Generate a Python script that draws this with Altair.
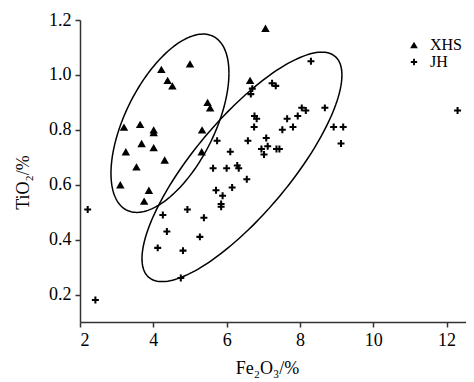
import numpy as np
import pandas as pd
import altair as alt

# ---- data ----
xhs_fe = [4.22, 5.00, 4.39, 4.52, 5.48, 5.55, 3.20, 3.64, 4.01, 4.01, 5.33,
          3.68, 3.25, 4.01, 5.32, 4.31, 3.54, 3.10, 3.88, 3.75, 7.06, 6.64]
xhs_ti = [1.02, 1.04, 0.98, 0.96, 0.90, 0.88, 0.81, 0.82, 0.80, 0.79, 0.80,
          0.75, 0.72, 0.735, 0.72, 0.69, 0.665, 0.60, 0.58, 0.54, 1.17, 0.98]

jh_fe = [8.30, 6.70, 6.66, 7.24, 7.34, 8.05, 8.16, 8.68, 6.76, 6.82, 6.75, 7.65,
         7.94, 7.81, 7.52, 8.92, 9.18, 9.12, 12.30, 6.58, 7.08, 6.95, 7.12, 7.02,
         7.36, 7.44, 6.10, 6.00, 6.29, 6.33, 6.55, 6.15, 5.89, 5.74, 5.63, 5.71,
         5.85, 5.85, 4.93, 5.38, 4.26, 4.37, 5.27, 4.12, 4.81, 4.75, 2.42, 2.21]
jh_ti = [1.05, 0.95, 0.93, 0.97, 0.96, 0.88, 0.87, 0.88, 0.85, 0.84, 0.81, 0.84,
         0.85, 0.81, 0.80, 0.81, 0.81, 0.75, 0.87, 0.76, 0.77, 0.73, 0.74, 0.71,
         0.73, 0.73, 0.72, 0.66, 0.67, 0.66, 0.62, 0.59, 0.56, 0.76, 0.66, 0.58,
         0.53, 0.52, 0.51, 0.48, 0.49, 0.43, 0.41, 0.37, 0.36, 0.26, 0.18, 0.51]

groups = ["XHS", "JH"]

# ellipse outlines: centre and two conjugate semi-axis vectors (data units)
ell_cx = [4.454, 6.418]
ell_cy = [0.824, 0.665]
ell_ax = [1.609, 2.727]
ell_ay = [0.1825, 0.334]
ell_bx = [0.0, 0.0]
ell_by = [-0.2686, -0.2511]

x_ticks = [2, 4, 6, 8, 10, 12]
y_ticks = [0.2, 0.4, 0.6, 0.8, 1.0, 1.2]

# ---- tables ----
pts = pd.DataFrame({
    "Fe": xhs_fe + jh_fe,
    "Ti": xhs_ti + jh_ti,
    "group": ["XHS"] * len(xhs_fe) + ["JH"] * len(jh_fe),
})

t = np.linspace(0, 2 * np.pi, 181)
rows = []
for k, name in enumerate(groups):
    for i, tt in enumerate(t):
        rows.append({
            "ell": name, "i": i,
            "Fe": ell_cx[k] + ell_ax[k] * np.cos(tt) + ell_bx[k] * np.sin(tt),
            "Ti": ell_cy[k] + ell_ay[k] * np.cos(tt) + ell_by[k] * np.sin(tt),
        })
ell = pd.DataFrame(rows)

FONT = "Liberation Serif"
cross_path = ("M-0.82,-0.24H-0.24V-0.82H0.24V-0.24H0.82V0.24H0.24V0.82"
              "H-0.24V0.24H-0.82Z")

xscale = alt.Scale(domain=[2, 12.53], nice=False, zero=False)
yscale = alt.Scale(domain=[0.1, 1.2], nice=False, zero=False)

xaxis = alt.Axis(values=x_ticks, format="d", title="Fe₂O₃/%",
                 titleX=187, titleY=51, titleAlign="center",
                 titleBaseline="alphabetic")
yaxis = alt.Axis(values=y_ticks, format=".1f", title="TiO₂/%",
                 titleX=-52, titleY=162, titleAlign="center",
                 titleBaseline="alphabetic", titleAngle=270)

ellipses = alt.Chart(ell).mark_line(color="black", strokeWidth=1.5, clip=False).encode(
    x=alt.X("Fe:Q", scale=xscale, axis=xaxis),
    y=alt.Y("Ti:Q", scale=yscale, axis=yaxis),
    detail="ell:N",
    order="i:Q",
)

points = alt.Chart(pts).mark_point(filled=True, color="black", opacity=1,
                                   size=72, clip=False).encode(
    x=alt.X("Fe:Q", scale=xscale),
    y=alt.Y("Ti:Q", scale=yscale),
    shape=alt.Shape("group:N",
                    scale=alt.Scale(domain=groups, range=["triangle-up", cross_path]),
                    legend=alt.Legend(title=None, orient="none", legendX=326, legendY=17,
                                      labelFont=FONT, labelFontSize=16, labelColor="black",
                                      symbolFillColor="black", symbolStrokeColor="black",
                                      symbolStrokeWidth=0, symbolOpacity=1,
                                      symbolSize=60, labelOffset=8, rowPadding=1,
                                      padding=0)),
)

chart = alt.layer(ellipses, points).properties(
    width=386, height=302,
    autosize=alt.AutoSizeParams(type="none"),
    padding={"left": 72, "top": 12, "right": 0, "bottom": 58},
).configure_view(stroke=None).configure_axis(
    grid=False,
    domainColor="#333333", domainWidth=1.5,
    tickColor="#333333", tickWidth=1.5, tickSize=5,
    labelFont=FONT, labelFontSize=18, labelColor="black", labelPadding=4,
    titleFont=FONT, titleFontSize=18, titleColor="black", titleFontWeight="normal",
)

chart.save("out.html", embed_options={"renderer": "svg", "actions": False})
